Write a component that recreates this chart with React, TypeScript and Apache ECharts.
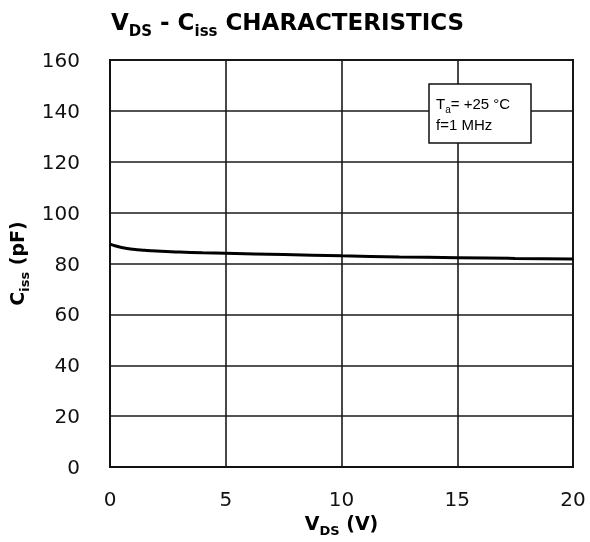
import React, { useEffect, useRef } from "react";
import * as echarts from "echarts";

const vds = [0, 0.25, 0.5, 1, 1.5, 2, 3, 4, 5, 7.5, 10, 12.5, 15, 17.5, 20];
const ciss = [87.6, 86.9, 86.3, 85.6, 85.2, 84.9, 84.5, 84.2, 84.0, 83.5, 83.0, 82.6, 82.3, 82.0, 81.8];
const xTicks = [0, 5, 10, 15, 20];
const yTicks = [0, 20, 40, 60, 80, 100, 120, 140, 160];

export default function App() {
  const ref = useRef<HTMLDivElement>(null);
  useEffect(() => {
    if (!ref.current) return;
    const chart = echarts.init(ref.current, null, { renderer: "svg" });
    const font = "DejaVu Sans, Verdana, sans-serif";
    const nameRich = {
      a: { fontFamily: font, fontWeight: "bold", fontSize: 19, color: "#000", verticalAlign: "bottom", lineHeight: 22 },
      b: { fontFamily: font, fontWeight: "bold", fontSize: 13, color: "#000", verticalAlign: "bottom", lineHeight: 16, padding: [0, 0, -4, 0] },
    };
    chart.setOption({
      animation: false,
      title: {
        text: "{a|V}{b|DS}{a| - C}{b|iss}{a| CHARACTERISTICS}",
        left: 106,
        top: 0,
        textStyle: {
          rich: {
            a: { fontFamily: font, fontWeight: "bold", fontSize: 23, color: "#000", verticalAlign: "bottom", lineHeight: 28 },
            b: { fontFamily: font, fontWeight: "bold", fontSize: 15, color: "#000", verticalAlign: "bottom", lineHeight: 20, padding: [0, 0, -5, 0] },
          },
        },
      },
      grid: {
        left: 110, right: 17, top: 60, bottom: 75,
        outerBoundsMode: "none",
        containLabel: false,
        show: true, borderColor: "#111", borderWidth: 2, backgroundColor: "transparent",
      },
      xAxis: {
        type: "value",
        min: xTicks[0],
        max: xTicks[xTicks.length - 1],
        interval: 5,
        name: "{a|V}{b|DS}{a| (V)}",
        nameLocation: "middle",
        nameGap: 43,
        nameTextStyle: { rich: nameRich },
        axisLine: { show: true, lineStyle: { color: "#111", width: 2 } },
        axisTick: { show: false },
        axisLabel: { fontFamily: font, fontSize: 20, color: "#111", margin: 22 },
        splitLine: { show: true, lineStyle: { color: "#1a1a1a", width: 1.6 } },
      },
      yAxis: {
        type: "value",
        min: yTicks[0],
        max: yTicks[yTicks.length - 1],
        interval: 20,
        name: "{a|C}{b|iss}{a| (pF)}",
        nameLocation: "middle",
        nameGap: 80,
        nameRotate: 90,
        nameTextStyle: { rich: nameRich },
        axisLine: { show: true, lineStyle: { color: "#111", width: 2 } },
        axisTick: { show: false },
        axisLabel: { fontFamily: font, fontSize: 20, color: "#111", margin: 30 },
        splitLine: { show: true, lineStyle: { color: "#1a1a1a", width: 1.6 } },
      },
      series: [
        {
          type: "line",
          data: vds.map((x, i) => [x, ciss[i]]),
          smooth: true,
          showSymbol: false,
          lineStyle: { color: "#000", width: 3 },
        },
      ],
      graphic: [
        {
          type: "rect",
          shape: { x: 429, y: 84, width: 102, height: 59 },
          style: { fill: "#fff", stroke: "#111", lineWidth: 1.5 },
          z: 100,
        },
        {
          type: "text",
          x: 436,
          y: 90,
          z: 101,
          style: {
            text: "{a|T}{s|a}{a|= +25 °C}\n{a|f=1 MHz}",
            rich: {
              a: { fontFamily: "Liberation Sans, Arial, sans-serif", fontSize: 15, fill: "#000", lineHeight: 21, verticalAlign: "bottom" },
              s: { fontFamily: "Liberation Sans, Arial, sans-serif", fontSize: 10, fill: "#000", lineHeight: 16, verticalAlign: "bottom", padding: [0, 0, -3, 0] },
            },
          },
        },
      ],
    });
    return () => chart.dispose();
  }, []);
  return <div ref={ref} style={{ position: "fixed", left: 0, top: 0, width: 590, height: 542 }} />;
}
